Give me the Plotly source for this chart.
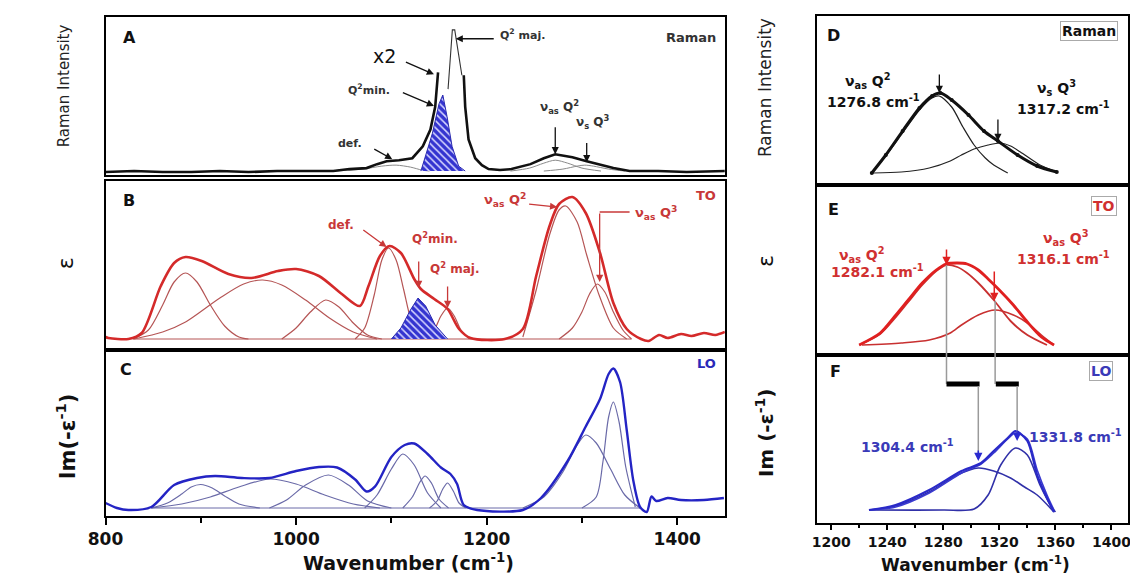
import plotly.graph_objects as go

W, H = 1138, 573

# ---------------- data (x in cm-1, y in arbitrary units) ----------------
# Panel A : Raman
a_fit1_x = [800, 830, 860, 890, 920, 950, 980, 1010, 1039, 1056, 1074, 1085, 1095, 1108, 1122, 1133, 1141, 1146, 1149]
a_fit1_y = [9, 10, 9, 9, 10, 9, 10, 10, 10, 12, 13, 17, 20, 21, 23, 35, 52, 75, 110]
a_fit2_x = [1176, 1177.5, 1181, 1188, 1195, 1202, 1214, 1226, 1246, 1260, 1272, 1290, 1305, 1320, 1333, 1350, 1380, 1410, 1450]
a_fit2_y = [107, 75, 42, 23, 16, 12, 11, 12, 17, 23, 27, 24, 20, 16, 13, 10, 10, 9, 10]
a_peak_x = [1159.5, 1164, 1166.5, 1171, 1174]
a_peak_y = [93, 153, 153, 125, 107]
a_q2min_x = [1131, 1136, 1143, 1150, 1154, 1158.5, 1163.7, 1170.6, 1177.5]
a_q2min_y = [10, 25, 48, 78, 87, 65, 35, 15, 10]
a_def_x = [1040, 1070, 1090, 1105, 1120, 1132, 1140]
a_def_y = [10, 12, 15, 16, 14, 11, 10]
a_vasq2_x = [1225, 1245, 1260, 1272, 1285, 1300, 1320]
a_vasq2_y = [10, 13, 18, 21, 18, 13, 10]
a_vsq3_x = [1260, 1280, 1295, 1303, 1312, 1328, 1345]
a_vsq3_y = [10, 12, 15, 16, 15, 12, 10]

# Panel B : TO (epsilon)
b_tot_x = [800, 803, 824, 838, 858, 872, 884, 901, 929, 953, 981, 1000, 1024, 1048, 1067, 1076, 1088, 1098,
           1110, 1124, 1131, 1145, 1159, 1171, 1183, 1219, 1238, 1252, 1266, 1276, 1290, 1304, 1319, 1333,
           1347, 1362, 1370, 1381, 1390, 1404, 1415, 1428, 1440, 1450]
b_tot_y = [13, 12, 11, 17, 64, 87, 93, 89, 76, 72, 79, 81, 74, 56, 44, 64, 94, 104,
           97, 71, 61, 51, 41, 21, 12, 11, 21, 74, 124, 146, 153, 137, 97, 47,
           21, 11, 9, 15, 12, 16, 14, 17, 15, 18]
b_base_x = [829, 1352]
b_base_y = [11, 11]
b_c1_x = [829, 845, 860, 872, 884, 896, 910, 925, 940, 950]
b_c1_y = [11, 20, 45, 68, 77, 68, 45, 24, 13, 11]
b_c2_x = [830, 860, 884, 920, 945, 965, 985, 1010, 1035, 1060, 1085]
b_c2_y = [11, 18, 28, 52, 66, 70, 65, 50, 32, 18, 11]
b_c3_x = [985, 1000, 1015, 1031, 1045, 1060, 1075, 1090]
b_c3_y = [11, 22, 38, 50, 43, 27, 15, 11]
b_def_x = [1062, 1072, 1082, 1090, 1097, 1105, 1113, 1120, 1128]
b_def_y = [11, 22, 55, 90, 102, 90, 60, 32, 14]
b_q2min_x = [1100, 1110, 1120, 1128, 1136, 1146, 1159]
b_q2min_y = [11, 22, 40, 52, 44, 25, 11]
b_q2maj_x = [1135, 1145, 1152, 1159, 1166, 1173, 1182]
b_q2maj_y = [11, 20, 34, 42, 34, 20, 11]
b_vasq2_x = [1238, 1252, 1266, 1276, 1283, 1295, 1305, 1318, 1333, 1347]
b_vasq2_y = [13, 60, 115, 140, 144, 128, 95, 55, 22, 11]
b_vasq3_x = [1276, 1290, 1300, 1308, 1316, 1324, 1333, 1343, 1352]
b_vasq3_y = [11, 22, 38, 56, 66, 58, 38, 20, 11]

# Panel C : LO (Im(-1/eps))
c_tot_x = [800, 812, 824, 848, 872, 896, 915, 943, 972, 1000, 1024, 1043, 1062, 1074, 1083, 1100, 1114, 1124,
           1138, 1152, 1162, 1169, 1176, 1190, 1238, 1257, 1285, 1304, 1319, 1328, 1333, 1340, 1347, 1354,
           1361, 1368, 1373, 1378, 1390, 1404, 1428, 1449]
c_tot_y = [14, 9, 7, 10, 32, 39, 41, 39, 39, 46, 50, 49.5, 37.5, 25.5, 30.6, 60, 72, 73.5,
           63, 49.5, 43, 33, 12, 7, 7, 19, 56, 90.5, 118, 143, 148.5, 135, 87, 36,
           10, 5, 20.5, 16, 19, 17, 17, 19]
c_base_x = [848, 1361]
c_base_y = [9, 9]
c_c1_x = [848, 865, 880, 890, 900, 912, 925, 940, 962]
c_c1_y = [9, 14, 23, 30, 32.5, 29, 21, 13, 9]
c_c2_x = [848, 880, 910, 940, 972, 1000, 1030, 1060, 1088]
c_c2_y = [9, 13, 20, 30, 38, 33, 22, 13, 9]
c_c3_x = [972, 990, 1010, 1034, 1055, 1075, 1100]
c_c3_y = [9, 17, 32, 42, 32, 16, 9]
c_c4_x = [1072, 1085, 1100, 1112, 1124, 1138, 1152]
c_c4_y = [9, 22, 48, 63, 52, 24, 9]
c_c5_x = [1112, 1122, 1130, 1135.5, 1142, 1150, 1160]
c_c5_y = [9, 20, 35, 41, 34, 18, 9]
c_c6_x = [1140, 1148, 1154, 1159, 1165, 1171, 1178]
c_c6_y = [9, 16, 28, 34, 26, 14, 9]
c_c7_x = [1238, 1260, 1280, 1295, 1304, 1315, 1330, 1345, 1361]
c_c7_y = [9, 20, 45, 72, 82, 74, 48, 22, 9]
c_c8_x = [1300, 1315, 1322, 1328, 1333, 1339, 1346, 1356]
c_c8_y = [9, 20, 55, 100, 115, 95, 50, 10]

# Panel D : Raman zoom
d_tot_x = [1229, 1239, 1251, 1263, 1272, 1278, 1286, 1298, 1309, 1319, 1333, 1347, 1361]
d_tot_y = [12, 30, 54, 77, 89, 92, 85, 70, 54, 44, 30, 19, 13]
d_c1_x = [1229, 1239, 1251, 1263, 1272, 1277, 1286, 1294, 1302, 1310, 1316, 1326]
d_c1_y = [12, 29, 52, 75, 87, 89, 78, 58, 40, 27, 20, 12]
d_c2_x = [1230, 1250, 1270, 1285, 1293, 1302, 1312, 1321, 1328, 1335, 1349, 1361]
d_c2_y = [12, 13, 17, 24, 30, 36, 40, 42, 39, 33, 20, 13]

# Panel E : TO zoom
e_tot_x = [1220, 1235, 1245, 1255, 1265, 1275, 1282, 1290, 1297, 1305, 1312, 1320, 1330, 1340, 1350, 1359]
e_tot_y = [10, 22, 38, 55, 72, 85, 91, 92, 91, 85, 76, 65, 50, 33, 18, 10]
e_c1_x = [1220, 1235, 1245, 1255, 1265, 1275, 1282, 1290, 1297, 1305, 1316, 1328, 1340, 1354]
e_c1_y = [10, 21, 36, 53, 70, 84, 90, 88, 82, 72, 55, 34, 20, 10]
e_c2_x = [1222, 1250, 1270, 1285, 1293, 1305, 1317, 1330, 1340, 1350, 1359]
e_c2_y = [10, 12, 15, 22, 30, 40, 45, 40, 32, 20, 10]

# Panel F : LO zoom
f_tot_x = [1227, 1246, 1270, 1293, 1307, 1316, 1326, 1331.5, 1340, 1347, 1354, 1359]
f_tot_y = [15, 20, 35, 54, 62, 74, 87, 94, 84, 50, 27, 13]
f_fit_x = [1227, 1246, 1270, 1293, 1307, 1316, 1326, 1331.5, 1340, 1347, 1354, 1359]
f_fit_y = [15, 18, 32, 52, 61, 72, 86, 92, 86, 55, 30, 15]
f_c1_x = [1227, 1246, 1270, 1290, 1305, 1316, 1328, 1338, 1347, 1359]
f_c1_y = [15, 19, 33, 50, 57, 54, 47, 38, 30, 13]
f_c2_x = [1227, 1280, 1302, 1312, 1321, 1331.5, 1340, 1349, 1356, 1360]
f_c2_y = [15, 15, 16, 30, 60, 77, 70, 40, 21, 13]

x_left_range = [800, 1450]
x_right_range = [1190, 1412]
left_ticks = [800, 1000, 1200, 1400]
right_ticks = [1200, 1240, 1280, 1320, 1360, 1400]

# ---------------- layout helpers ----------------
def fx(px):
    return px / W

def fy(py):
    return 1 - py / H

FONT = "DejaVu Sans"
BLACK = "#111111"
RED = "#d42a2a"
REDC = "#b55555"
BLUE = "#2424c4"
BLUEC = "#6a6aa8"
GRAY = "#8a8a8a"

fig = go.Figure()

def line(x, y, ax, color, width, shape="spline", **kw):
    fig.add_trace(go.Scatter(x=x, y=y, xaxis=ax[0], yaxis=ax[1], mode="lines",
                             line=dict(color=color, width=width, shape=shape, smoothing=0.8),
                             hoverinfo="skip", **kw))

def hatched(x, y, ax, edge):
    fig.add_trace(go.Scatter(x=x, y=y, xaxis=ax[0], yaxis=ax[1], mode="lines",
                             fill="toself", line=dict(color=edge, width=1),
                             fillcolor="#3434d0",
                             fillpattern=dict(shape="\\", bgcolor="#3434d0", fgcolor="#d8d8ff",
                                              size=5, solidity=0.3, fillmode="replace"),
                             hoverinfo="skip"))

A = ("x", "y"); B = ("x2", "y2"); C = ("x3", "y3")
D = ("x4", "y4"); E = ("x5", "y5"); F = ("x6", "y6")

# Panel A
for cx, cy in [(a_def_x, a_def_y), (a_vasq2_x, a_vasq2_y), (a_vsq3_x, a_vsq3_y)]:
    line(cx, cy, A, GRAY, 1)
hatched(a_q2min_x, a_q2min_y, A, "#2a2ab0")
line(a_peak_x, a_peak_y, A, "#333333", 1.1, shape="linear")
line(a_fit1_x, a_fit1_y, A, BLACK, 2.6, shape="linear")
line(a_fit2_x, a_fit2_y, A, BLACK, 2.6, shape="linear")

# Panel B
line(b_base_x, b_base_y, B, REDC, 1, shape="linear")
for cx, cy in [(b_c1_x, b_c1_y), (b_c2_x, b_c2_y), (b_c3_x, b_c3_y), (b_def_x, b_def_y),
               (b_q2maj_x, b_q2maj_y), (b_vasq2_x, b_vasq2_y), (b_vasq3_x, b_vasq3_y)]:
    line(cx, cy, B, REDC, 1.2)
hatched(b_q2min_x, b_q2min_y, B, "#2a2ab0")
line(b_tot_x, b_tot_y, B, RED, 2.6)

# Panel C
line(c_base_x, c_base_y, C, BLUEC, 1, shape="linear")
for cx, cy in [(c_c1_x, c_c1_y), (c_c2_x, c_c2_y), (c_c3_x, c_c3_y), (c_c4_x, c_c4_y),
               (c_c5_x, c_c5_y), (c_c6_x, c_c6_y), (c_c7_x, c_c7_y), (c_c8_x, c_c8_y)]:
    line(cx, cy, C, BLUEC, 1.2)
line(c_tot_x, c_tot_y, C, BLUE, 2.4)

# Panel D
line(d_c1_x, d_c1_y, D, "#222222", 1.2)
line(d_c2_x, d_c2_y, D, "#222222", 1.2)
fig.add_trace(go.Scatter(x=d_tot_x, y=d_tot_y, xaxis="x4", yaxis="y4", mode="lines+markers",
                         line=dict(color=BLACK, width=3, shape="spline", smoothing=0.8),
                         marker=dict(size=4, color=BLACK), hoverinfo="skip"))

# Panel E
line(e_c1_x, e_c1_y, E, "#c83030", 1.8)
line(e_c2_x, e_c2_y, E, "#c83030", 1.6)
line(e_tot_x, e_tot_y, E, "#e02020", 2.8)

# Panel F
line(f_c1_x, f_c1_y, F, "#3030a8", 1.6)
line(f_c2_x, f_c2_y, F, "#3030a8", 1.6)
line(f_fit_x, f_fit_y, F, "#3a3ad0", 1.6)
line(f_tot_x, f_tot_y, F, "#2a2ac8", 2.2)

# ---------------- axes ----------------
frame = dict(showline=True, mirror=True, linecolor="black", linewidth=2,
             showgrid=False, zeroline=False, ticks="", showticklabels=False, fixedrange=True)

lx = [fx(81), fx(712)]
rx = [fx(806), fx(1123)]
dom = {
    "A": [fy(167), fy(9)], "B": [fy(342), fy(173)], "C": [fy(508), fy(342)],
    "D": [fy(177), fy(8)], "E": [fy(347), fy(177)], "F": [fy(515), fy(347)],
}
yr = {"A": [6, 166], "B": [0, 169], "C": [1, 167], "D": [0, 169], "E": [0, 170], "F": [2, 170]}

lay = {}
names = ["A", "B", "C", "D", "E", "F"]
for i, n in enumerate(names):
    k = "" if i == 0 else str(i + 1)
    left = i < 3
    xa = dict(frame, domain=lx if left else rx, range=x_left_range if left else x_right_range,
              anchor="y" + k)
    if n == "C":
        xa.update(ticks="outside", ticklen=7, tickwidth=2, tickcolor="black",
                  tickvals=left_ticks, showticklabels=True,
                  tickfont=dict(family=FONT, size=17, color=BLACK, weight="bold"),
                  minor=dict(ticks="outside", ticklen=5, tickwidth=2, tickcolor="black",
                             tick0=800, dtick=100))
    if n == "F":
        xa.update(ticks="outside", ticklen=5, tickwidth=2, tickcolor="black",
                  tickvals=right_ticks, showticklabels=True,
                  tickfont=dict(family=FONT, size=14, color=BLACK, weight="bold"),
                  minor=dict(ticks="outside", ticklen=3, tickwidth=2, tickcolor="black",
                             tick0=1200, dtick=20))
    ya = dict(frame, domain=dom[n], range=yr[n], anchor="x" + k)
    lay["xaxis" + k] = xa
    lay["yaxis" + k] = ya

fig.update_layout(**lay)

# ---------------- annotations ----------------
ann = []

def txt(x, y, s, ax, size=12, color=BLACK, bold=True, xanchor="center", **kw):
    ann.append(dict(x=x, y=y, xref=ax[0], yref=ax[1], text=s, showarrow=False,
                    xanchor=xanchor, yanchor="middle",
                    font=dict(family=FONT, size=size, color=color, weight="bold" if bold else "normal"),
                    **kw))

def arrow(hx, hy, tx, ty, ax, color=BLACK, width=1.3, head=2, size=1.1):
    ann.append(dict(x=hx, y=hy, ax=tx, ay=ty, xref=ax[0], yref=ax[1], axref=ax[0], ayref=ax[1],
                    text="", showarrow=True, arrowhead=head, arrowsize=size, arrowwidth=width,
                    arrowcolor=color))

def ptxt(px, py, s, size, bold=True, angle=0, color=BLACK):
    ann.append(dict(x=fx(px), y=fy(py), xref="paper", yref="paper", text=s, showarrow=False,
                    textangle=angle, xanchor="center", yanchor="middle",
                    font=dict(family=FONT, size=size, color=color, weight="bold" if bold else "normal")))

TXT = "#333333"
# Panel A
txt(825, 145, "A", A, 16)
txt(1443, 145, "Raman", A, 13, TXT, xanchor="right")
txt(1093, 126, "x2", A, 19, BLACK, bold=False)
arrow(1144.7, 108, 1113.7, 121, A)
txt(1077, 93, "Q<sup>2</sup>min.", A, 11, TXT)
arrow(1144.7, 76, 1110.5, 90, A)
txt(1057, 38, "def.", A, 11, TXT)
arrow(1101, 22, 1080.5, 33, A)
txt(1212, 148, "Q<sup>2</sup> maj.", A, 11, TXT, xanchor="left")
arrow(1167.5, 144, 1209, 144, A)
txt(1276, 75, "ν<sub>as</sub> Q<sup>2</sup>", A, 12, TXT)
arrow(1272, 27, 1272, 56, A)
txt(1312, 60, "ν<sub>s</sub> Q<sup>3</sup>", A, 12, TXT)
arrow(1305, 19, 1305, 40, A)

# Panel B
RT = "#c83838"
txt(825, 150, "B", B, 16)
txt(1443, 155, "TO", B, 13, RT, xanchor="right")
txt(1219, 150, "ν<sub>as</sub> Q<sup>2</sup>", B, 13, RT)
arrow(1274, 143, 1243, 146, B, RT)
txt(1354, 137, "ν<sub>as</sub> Q<sup>3</sup>", B, 13, RT, xanchor="left")
arrow(1318.6, 68, 1318.6, 138, B, RT)
txt(1047, 125, "def.", B, 12, RT)
arrow(1095, 103, 1069, 121, B, RT)
txt(1146, 112, "Q<sup>2</sup>min.", B, 12, RT)
arrow(1128.7, 62, 1128.7, 90, B, RT)
txt(1166, 82, "Q<sup>2</sup> maj.", B, 12, RT)
arrow(1159, 42, 1159, 65, B, RT)

# Panel C
txt(822, 148, "C", C, 16)
txt(1443, 154, "LO", C, 13, "#2a2ab8", xanchor="right")

# Panel D
txt(1201.9, 149, "D", D, 16)
txt(1383.7, 154, "Raman", D, 14, BLACK, bordercolor="#aaaaaa", borderwidth=1, borderpad=1)
txt(1226, 104, "ν<sub>as</sub> Q<sup>2</sup>", D, 14)
txt(1230, 84, "1276.8 cm<sup>-1</sup>", D, 14)
txt(1360.6, 97, "ν<sub>s</sub> Q<sup>3</sup>", D, 14)
txt(1365.5, 77, "1317.2 cm<sup>-1</sup>", D, 14)
arrow(1277.2, 92, 1277.2, 112, D)
arrow(1319, 44, 1319, 67, D)

# Panel E
ET = "#d03030"
txt(1201.9, 145, "E", E, 16)
txt(1394.9, 149, "TO", E, 14, ET, bordercolor="#aaaaaa", borderwidth=1, borderpad=1)
txt(1222, 100, "ν<sub>as</sub> Q<sup>2</sup>", E, 14, ET)
txt(1233, 84, "1282.1 cm<sup>-1</sup>", E, 14, ET)
txt(1367.6, 117, "ν<sub>as</sub> Q<sup>3</sup>", E, 14, ET)
txt(1365.5, 97, "1316.1 cm<sup>-1</sup>", E, 14, ET)
arrow(1282.3, 90, 1282.3, 107, E, "#e02020", 1.5)
arrow(1316.4, 54, 1316.4, 85, E, "#e02020", 1.5)

# Panel F
BT = "#3a3ab8"
txt(1203, 154, "F", F, 16)
txt(1392.8, 154, "LO", F, 14, BT, bordercolor="#aaaaaa", borderwidth=1, borderpad=1)
txt(1254.3, 79, "1304.4 cm<sup>-1</sup>", F, 14, BT)
txt(1374.6, 89, "1331.8 cm<sup>-1</sup>", F, 14, BT)
arrow(1305, 64, 1305, 76, F, "#2a2ad0", 1.5)
arrow(1332.7, 84, 1332.7, 96, F, "#2a2ad0", 1.5)

# axis titles
ptxt(39, 78, "Raman Intensity", 15, bold=False, angle=-90, color="#222222")
ptxt(41, 255, "ε", 22, bold=False, angle=-90)
ptxt(41, 428, "Im(-ε<sup>-1</sup>)", 21, bold=True, angle=-90)
ptxt(753, 80, "Raman Intensity", 17, bold=False, angle=-90, color="#222222")
ptxt(753, 253, "ε", 22, bold=False, angle=-90)
ptxt(753, 425, "Im (-ε<sup>-1</sup>)", 20, bold=True, angle=-90)
ptxt(390, 553.5, "Wavenumber (cm<sup>-1</sup>)", 19)
ptxt(967, 555.5, "Wavenumber (cm<sup>-1</sup>)", 17)

# connectors and guide bars
shapes = [
    dict(type="line", xref="x2", yref="y2", x0=1318.6, x1=1350, y0=138, y1=138,
         line=dict(color=RT, width=1.3)),
    dict(type="line", xref="x5", yref="paper", x0=1282.3, x1=1282.3, y0=fy(257), y1=fy(376),
         line=dict(color="#9a9a9a", width=1.5)),
    dict(type="line", xref="x5", yref="paper", x0=1317.0, x1=1317.0, y0=fy(293), y1=fy(376),
         line=dict(color="#9a9a9a", width=1.5)),
    dict(type="line", xref="x6", yref="y6", x0=1282.3, x1=1305.9, y0=141, y1=141,
         line=dict(color="black", width=5)),
    dict(type="line", xref="x6", yref="y6", x0=1317.5, x1=1333.9, y0=141, y1=141,
         line=dict(color="black", width=5)),
    dict(type="line", xref="x6", yref="y6", x0=1305, x1=1305, y0=139, y1=72,
         line=dict(color="#9a9a9a", width=1.5)),
    dict(type="line", xref="x6", yref="y6", x0=1332.7, x1=1332.7, y0=139, y1=92,
         line=dict(color="#9a9a9a", width=1.5)),
]

fig.update_layout(width=W, height=H, margin=dict(l=0, r=0, t=0, b=0),
                  paper_bgcolor="white", plot_bgcolor="white", showlegend=False,
                  annotations=ann, shapes=shapes)

fig.write_html("out.html")
